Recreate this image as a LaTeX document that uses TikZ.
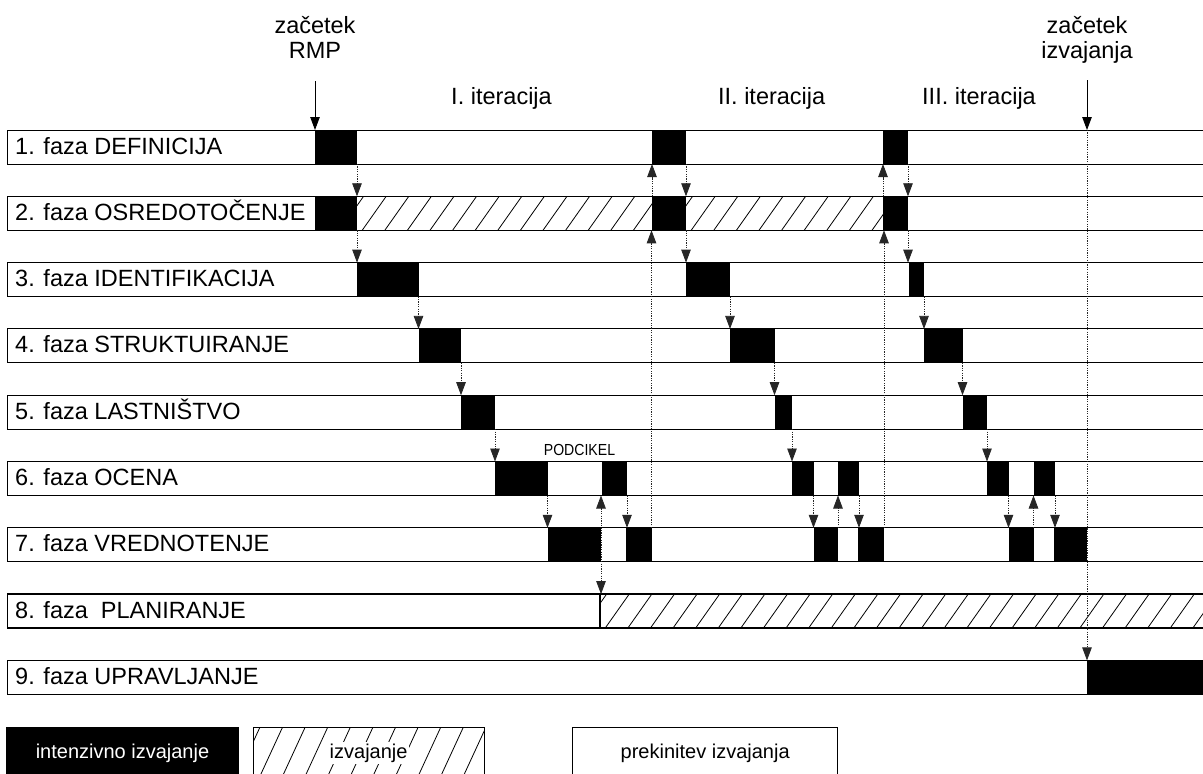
\documentclass[tikz,border=0pt]{standalone}
\usepackage{fontspec}
\setmainfont{Liberation Sans}
\usepackage{graphicx}
\usetikzlibrary{arrows.meta}
\tikzset{
  rowbox/.style={draw=black, line width=0.9pt, fill=white, anchor=north west, minimum width=1215, minimum height=34, inner sep=0, outer sep=0},
  hrowbox/.style={rowbox, line width=1.5pt},
  blk/.style={fill=black, anchor=north west, minimum height=34, inner sep=0, outer sep=0},
  hatchbox/.style={draw=black, line width=1.5pt, anchor=north west, minimum height=34, inner sep=0, outer sep=0},
  lab/.style={anchor=base west, inner sep=0, font=\fontsize{23.5}{25}\selectfont},
  ttl/.style={anchor=base, inner sep=0, font=\fontsize{23.5}{25}\selectfont, align=center},
  tip/.tip={Triangle[length=13pt,width=9.5pt]},
  conn/.style={draw=black!85, line width=0.8pt, dash pattern=on 1.2pt off 1.2pt, -tip},
  conntwo/.style={conn, tip-tip},
  startarr/.style={draw=black, line width=0.9pt, -tip},
  hl/.style={line width=0.8pt},
  legbox/.style={draw=black, line width=0.9pt, anchor=north west, minimum height=52, inner sep=0, outer sep=0, font=\fontsize{20}{24}\selectfont},
  legtext/.style={fill=white, inner sep=1.5pt, font=\fontsize{20}{24}\selectfont},
}
\newcommand{\hatchrect}[4]{%
  \begin{scope}
    \clip (#1,#2) rectangle (#3,#4);
    \pgfmathsetmacro\hxa{#1-40}
    \pgfmathsetmacro\hxb{#1-40+22.6}
    \foreach \hx in {\hxa,\hxb,...,#3}{\draw[hl] (\hx,#4) -- (\hx+24,#2);}
  \end{scope}}
\begin{document}
\begin{tikzpicture}[x=1pt,y=-1pt]
\useasboundingbox (0,0) rectangle (1203,774);
\fill[white] (0,0) rectangle (1203,774);

% rows
\node[rowbox]  (row1) at (7.5,130.0) {};
\node[hrowbox] (row2) at (7.5,196.3) {};
\node[rowbox]  (row3) at (7.5,262.6) {};
\node[rowbox]  (row4) at (7.5,328.9) {};
\node[rowbox]  (row5) at (7.5,395.2) {};
\node[rowbox]  (row6) at (7.5,461.5) {};
\node[rowbox]  (row7) at (7.5,527.8) {};
\node[hrowbox] (row8) at (7.5,594.1) {};
\node[rowbox]  (row9) at (7.5,660.4) {};

% hatched areas
\hatchrect{357}{196.3}{652}{230.3}
\hatchrect{686}{196.3}{883}{230.3}
\hatchrect{600}{594.1}{1215}{628.1}
\node[hatchbox, minimum width=615] (h8) at (600,594.1) {};
\draw[line width=1.5pt] (row2.north west) rectangle (row2.south east);

% black blocks
\node[blk, minimum width=42]   (r1a) at (315,130.0) {};
\node[blk, minimum width=34]   (r1b) at (652,130.0) {};
\node[blk, minimum width=25]   (r1c) at (883,130.0) {};
\node[blk, minimum width=42]   (r2a) at (315,196.3) {};
\node[blk, minimum width=34]   (r2b) at (652,196.3) {};
\node[blk, minimum width=25]   (r2c) at (883,196.3) {};
\node[blk, minimum width=61.5] (r3a) at (357,262.6) {};
\node[blk, minimum width=44]   (r3b) at (686,262.6) {};
\node[blk, minimum width=15.5] (r3c) at (908.5,262.6) {};
\node[blk, minimum width=42.5] (r4a) at (418.5,328.9) {};
\node[blk, minimum width=44.5] (r4b) at (730,328.9) {};
\node[blk, minimum width=38.5] (r4c) at (924,328.9) {};
\node[blk, minimum width=34]   (r5a) at (461,395.2) {};
\node[blk, minimum width=17.5] (r5b) at (774.5,395.2) {};
\node[blk, minimum width=24.5] (r5c) at (962.5,395.2) {};
\node[blk, minimum width=53]   (r6a1) at (494.5,461.5) {};
\node[blk, minimum width=25]   (r6a2) at (602,461.5) {};
\node[blk, minimum width=21.5] (r6b1) at (792,461.5) {};
\node[blk, minimum width=21]   (r6b2) at (838,461.5) {};
\node[blk, minimum width=21.5] (r6c1) at (987,461.5) {};
\node[blk, minimum width=21.5] (r6c2) at (1033.5,461.5) {};
\node[blk, minimum width=53]   (r7a1) at (547.5,527.8) {};
\node[blk, minimum width=25.5] (r7a2) at (626,527.8) {};
\node[blk, minimum width=24.5] (r7b1) at (813.5,527.8) {};
\node[blk, minimum width=26]   (r7b2) at (858,527.8) {};
\node[blk, minimum width=25]   (r7c1) at (1008.5,527.8) {};
\node[blk, minimum width=33]   (r7c2) at (1054,527.8) {};
\node[blk, minimum width=130]  (r9)   at (1087,660.4) {};

% row labels
\node[lab] (l1) at (15,154.0) {1. faza DEFINICIJA};
\node[lab] (l2) at (15,220.3) {2. faza OSREDOTOČENJE};
\node[lab] (l3) at (15,286.6) {3. faza IDENTIFIKACIJA};
\node[lab] (l4) at (15,352.9) {4. faza STRUKTUIRANJE};
\node[lab] (l5) at (15,419.2) {5. faza LASTNIŠTVO};
\node[lab] (l6) at (15,485.5) {6. faza OCENA};
\node[lab] (l7) at (15,551.8) {7. faza VREDNOTENJE};
\node[lab] (l8) at (15,618.1) {8. faza~ PLANIRANJE};
\node[lab] (l9) at (15,684.4) {9. faza UPRAVLJANJE};

% titles
\node[ttl] (zac1) at (315,58.3) {začetek\\RMP};
\node[ttl] (zac2) at (1087,58.3) {začetek\\izvajanja};
\node[ttl] (it1) at (501.5,104) {I. iteracija};
\node[ttl] (it2) at (771.7,104) {II. iteracija};
\node[ttl] (it3) at (979,104) {III. iteracija};
\node[inner sep=0] (podc) at (579.5,449.5) {\fontsize{16}{18}\selectfont\scalebox{0.88}[1]{PODCIKEL}};

% start arrows
\coordinate (s1) at (315,81);
\coordinate (s2) at (1087,80);
\draw[startarr] (s1) -- (r1a.north west);
\draw[startarr] (s2) -- (s2 |- row1.north);
\draw[conn] (s2 |- row1.north) -- (r9.north west);

% iteration I
\draw[conn] (r1a.south east) -- (r1a.south east |- r2a.north);
\draw[conn] (r2a.south east) -- (r2a.south east |- r3a.north);
\draw[conn] (r3a.south east) -- (r3a.south east |- r4a.north);
\draw[conn] (r4a.south east) -- (r4a.south east |- r5a.north);
\draw[conn] (r5a.south east) -- (r5a.south east |- r6a1.north);
\draw[conn] (r6a1.south east) -- (r6a1.south east |- r7a1.north);
\draw[conntwo] ([xshift=-1pt]r6a2.south west) -- ([xshift=-1pt]r6a2.south west |- h8.north);
\draw[conn] (r6a2.south east) -- (r6a2.south east |- r7a2.north);
\draw[conn] (r7a2.north east) -- (r7a2.north east |- r2b.south);
\draw[conn] (r2b.north west) -- (r2b.north west |- r1b.south);

% iteration II
\draw[conn] (r1b.south east) -- (r1b.south east |- r2b.north);
\draw[conn] (r2b.south east) -- (r2b.south east |- r3b.north);
\draw[conn] (r3b.south east) -- (r3b.south east |- r4b.north);
\draw[conn] (r4b.south east) -- (r4b.south east |- r5b.north);
\draw[conn] (r5b.south east) -- (r5b.south east |- r6b1.north);
\draw[conn] (r6b1.south east) -- (r6b1.south east |- r7b1.north);
\draw[conn] (r7b1.north east) -- (r7b1.north east |- r6b2.south);
\draw[conn] (r6b2.south east) -- (r6b2.south east |- r7b2.north);
\draw[conn] (r7b2.north east) -- (r7b2.north east |- r2c.south);
\draw[conn] (r2c.north west) -- (r2c.north west |- r1c.south);

% iteration III
\draw[conn] (r1c.south east) -- (r1c.south east |- r2c.north);
\draw[conn] (r2c.south east) -- (r2c.south east |- r3c.north);
\draw[conn] (r3c.south east) -- (r3c.south east |- r4c.north);
\draw[conn] (r4c.south east) -- (r4c.south east |- r5c.north);
\draw[conn] (r5c.south east) -- (r5c.south east |- r6c1.north);
\draw[conn] (r6c1.south east) -- (r6c1.south east |- r7c1.north);
\draw[conn] (r7c1.north east) -- (r7c1.north east |- r6c2.south);
\draw[conn] (r6c2.south east) -- (r6c2.south east |- r7c2.north);

% legend
\node[legbox, fill=black, text=white, minimum width=231.6] (leg1) at (6.7,727.3) {intenzivno izvajanje};
\node[legbox, minimum width=230.7] (leg2) at (253.3,727.3) {};
\hatchrect{253.3}{727.3}{484}{779.3}
\node[legtext] (leg2t) at (leg2.center) {izvajanje};
\node[legbox, minimum width=265] (leg3) at (572.7,727.3) {prekinitev izvajanja};
\end{tikzpicture}
\end{document}
